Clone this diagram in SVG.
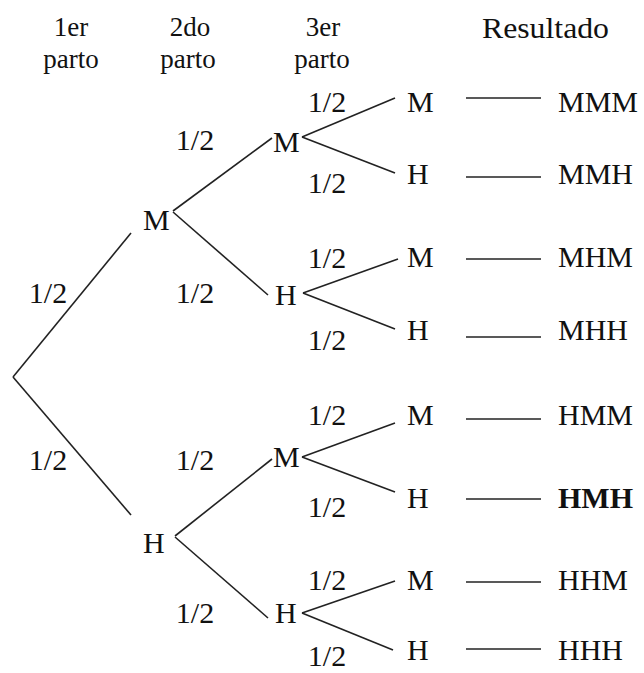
<svg xmlns="http://www.w3.org/2000/svg" width="644" height="673" viewBox="0 0 644 673">
<style>
text{font-family:"Liberation Serif","Times New Roman",serif;font-size:30px;fill:#111}
.c{text-anchor:middle}
.h{font-size:27px}
.b{font-weight:bold}
#connectors line{stroke:#222;stroke-width:1.6;fill:none}
</style>
<rect width="644" height="673" fill="#fff"/>
<g id="headers">
<text class="c h" x="71" y="36">1er</text>
<text class="c h" x="71" y="68">parto</text>
<text class="c h" x="190" y="36">2do</text>
<text class="c h" x="188" y="68">parto</text>
<text class="c h" x="323" y="36">3er</text>
<text class="c h" x="322" y="68">parto</text>
<text x="482" y="38" textLength="127" lengthAdjust="spacingAndGlyphs">Resultado</text>
</g>
<g id="connectors">
<line x1="13" y1="377" x2="131" y2="233"/>
<line x1="13" y1="377" x2="131" y2="515"/>
<line x1="173" y1="211" x2="272" y2="138"/>
<line x1="173" y1="212" x2="268" y2="295"/>
<line x1="175" y1="536" x2="272" y2="459"/>
<line x1="175" y1="537" x2="268" y2="618"/>
<line x1="302" y1="137" x2="395" y2="98"/>
<line x1="302" y1="137" x2="395" y2="173"/>
<line x1="303" y1="293" x2="398" y2="259"/>
<line x1="303" y1="293" x2="395" y2="329"/>
<line x1="302" y1="457" x2="395" y2="423"/>
<line x1="302" y1="457" x2="395" y2="492"/>
<line x1="302" y1="613" x2="395" y2="581"/>
<line x1="302" y1="613" x2="393" y2="650"/>
<line x1="466" y1="98" x2="541" y2="98"/>
<line x1="466" y1="177" x2="541" y2="177"/>
<line x1="466" y1="259" x2="541" y2="259"/>
<line x1="466" y1="337" x2="541" y2="337"/>
<line x1="466" y1="419" x2="541" y2="419"/>
<line x1="466" y1="499" x2="541" y2="499"/>
<line x1="466" y1="582" x2="541" y2="582"/>
<line x1="466" y1="649" x2="541" y2="649"/>
</g>
<g id="l1-M"><text x="143" y="230">M</text></g>
<g id="l1-H"><text x="143" y="553">H</text></g>
<g id="l1-p"><text class="c" x="48" y="303">1/2</text><text class="c" x="48" y="470">1/2</text></g>
<g id="l2-MM"><text x="273" y="152">M</text></g>
<g id="l2-MH"><text x="275" y="305">H</text></g>
<g id="l2-HM"><text x="273" y="467">M</text></g>
<g id="l2-HH"><text x="275" y="623">H</text></g>
<g id="l2-p">
<text class="c" x="195" y="150">1/2</text>
<text class="c" x="195" y="303">1/2</text>
<text class="c" x="195" y="470">1/2</text>
<text class="c" x="195" y="623">1/2</text>
</g>
<g id="l3-p">
<text class="c" x="327" y="112">1/2</text>
<text class="c" x="327" y="193">1/2</text>
<text class="c" x="327" y="268">1/2</text>
<text class="c" x="327" y="350">1/2</text>
<text class="c" x="327" y="425">1/2</text>
<text class="c" x="327" y="517">1/2</text>
<text class="c" x="327" y="590">1/2</text>
<text class="c" x="327" y="666">1/2</text>
</g>
<g id="l3-MMM"><text x="407" y="112">M</text><text x="558" y="112">MMM</text></g>
<g id="l3-MMH"><text x="407" y="184">H</text><text x="558" y="184">MMH</text></g>
<g id="l3-MHM"><text x="407" y="267">M</text><text x="558" y="267">MHM</text></g>
<g id="l3-MHH"><text x="407" y="340">H</text><text x="558" y="340">MHH</text></g>
<g id="l3-HMM"><text x="407" y="425">M</text><text x="558" y="425">HMM</text></g>
<g id="l3-HMH"><text x="407" y="508">H</text><text class="b" x="558" y="508">HMH</text></g>
<g id="l3-HHM"><text x="407" y="590">M</text><text x="558" y="590">HHM</text></g>
<g id="l3-HHH"><text x="407" y="660">H</text><text x="558" y="660">HHH</text></g>
</svg>
